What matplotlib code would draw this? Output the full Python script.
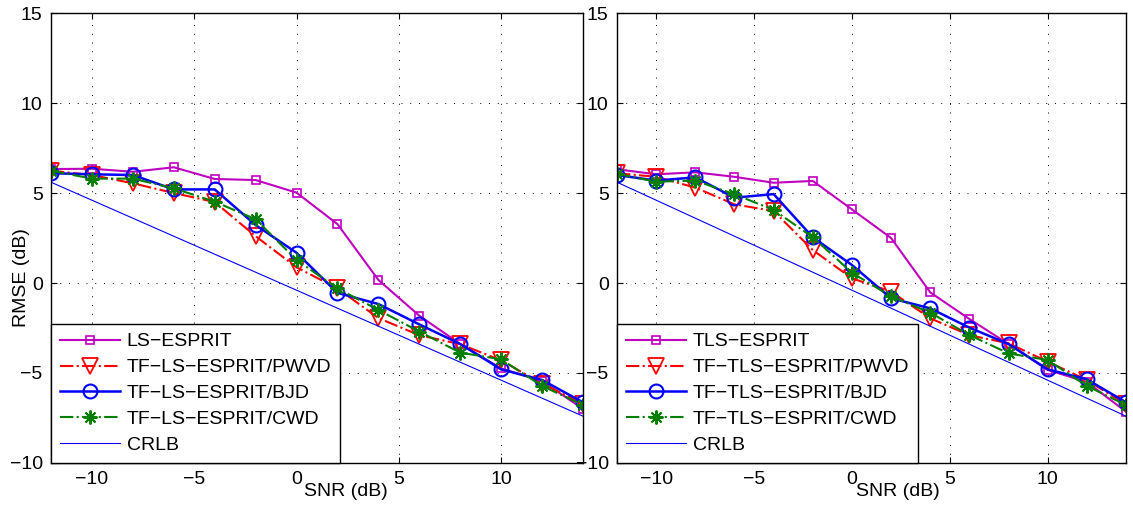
import matplotlib
matplotlib.use("Agg")
import matplotlib.pyplot as plt

# ----------------------
# 数据
# ----------------------
snr = [-12, -10, -8, -6, -4, -2, 0, 2, 4, 6, 8, 10, 12, 14]

# 左图: LS-ESPRIT
ls_esprit = [6.33, 6.35, 6.18, 6.43, 5.78, 5.72, 5.02, 3.27, 0.17, -1.82, -3.39, -4.75, -5.45, -7.0]
tf_ls_pwvd = [6.24, 6.0, 5.54, 5.0, 4.5, 2.6, 0.87, -0.3, -1.95, -2.9, -3.4, -4.3, -5.6, -6.7]
tf_ls_bjd = [6.1, 6.04, 6.0, 5.2, 5.2, 3.22, 1.68, -0.55, -1.17, -2.3, -3.39, -4.8, -5.39, -6.63]
tf_ls_cwd = [6.24, 5.8, 5.8, 5.26, 4.52, 3.54, 1.28, -0.3, -1.5, -2.7, -3.87, -4.24, -5.72, -6.78]

# 右图: TLS-ESPRIT
tls_esprit = [6.32, 6.04, 6.15, 5.9, 5.57, 5.67, 4.09, 2.5, -0.52, -2.0, -3.39, -4.83, -5.5, -7.15]
tf_tls_pwvd = [6.1, 5.9, 5.3, 4.37, 4.0, 1.83, 0.26, -0.48, -1.96, -2.9, -3.35, -4.37, -5.39, -6.75]
tf_tls_bjd = [6.0, 5.69, 5.87, 4.74, 4.94, 2.54, 1.0, -0.85, -1.41, -2.48, -3.39, -4.8, -5.35, -6.63]
tf_tls_cwd = [6.06, 5.63, 5.69, 4.93, 4.06, 2.54, 0.57, -0.74, -1.65, -2.89, -3.91, -4.28, -5.72, -6.78]

crlb = [5.6, 4.6, 3.6, 2.6, 1.6, 0.6, -0.4, -1.4, -2.4, -3.4, -4.4, -5.4, -6.4, -7.4]

left_labels = ["LS\u2212ESPRIT", "TF\u2212LS\u2212ESPRIT/PWVD", "TF\u2212LS\u2212ESPRIT/BJD",
               "TF\u2212LS\u2212ESPRIT/CWD", "CRLB"]
right_labels = ["TLS\u2212ESPRIT", "TF\u2212TLS\u2212ESPRIT/PWVD", "TF\u2212TLS\u2212ESPRIT/BJD",
                "TF\u2212TLS\u2212ESPRIT/CWD", "CRLB"]

plt.rcParams["font.family"] = ["Liberation Sans", "DejaVu Sans"]
plt.rcParams["font.size"] = 14

MAGENTA = "#bf00bf"
GREEN = "#007f00"
ASTERISK = (8, 2, 0)


def draw_panel(ax, series, labels, xlabel_x, ylabel=True):
    s1, s2, s3, s4 = series
    ax.plot(snr, s1, "-", color=MAGENTA, lw=1.5, marker="s", ms=5.5, mfc="none", mew=1.2, label=labels[0])
    ax.plot(snr, s2, "-.", color="red", lw=1.5, marker="v", ms=11, mfc="none", mew=1.3, label=labels[1])
    ax.plot(snr, s3, "-", color="blue", lw=1.8, marker="o", ms=10, mfc="none", mew=1.5, label=labels[2])
    ax.plot(snr, s4, "-.", color=GREEN, lw=1.5, marker=ASTERISK, ms=10, mew=1.4, label=labels[3])
    ax.plot(snr, crlb, "-", color="blue", lw=0.8, label=labels[4])

    ax.set_xlim(-12, 14)
    ax.set_ylim(-10, 15)
    ax.set_xticks([-10, -5, 0, 5, 10])
    ax.set_yticks([-10, -5, 0, 5, 10, 15])
    ax.tick_params(direction="in", length=4, top=True, right=True, pad=6, labelsize=14)
    ax.grid(True, color="black", linestyle=(0, (1, 8)), linewidth=0.7)
    for sp in ax.spines.values():
        sp.set_linewidth(1.0)

    ax.set_xlabel("SNR (dB)", fontsize=14)
    ax.xaxis.set_label_coords(xlabel_x, -0.045)
    if ylabel:
        ax.set_ylabel("RMSE (dB)", fontsize=14, va="center")
        ax.yaxis.set_label_coords(-0.055, 0.413)

    leg = ax.legend(loc="lower left", borderaxespad=0, fancybox=False, edgecolor="black",
                    framealpha=1, fontsize=14, handlelength=3.1, handletextpad=0.35,
                    labelspacing=0.43, borderpad=0.45)
    leg.get_frame().set_linewidth(1.0)


fig = plt.figure(figsize=(11.33, 5.09), dpi=100)
ax1 = fig.add_axes([0.045, 0.0904, 0.4696, 0.884])
ax2 = fig.add_axes([0.5446, 0.0904, 0.4492, 0.884])

draw_panel(ax1, [ls_esprit, tf_ls_pwvd, tf_ls_bjd, tf_ls_cwd], left_labels, 0.5545)
draw_panel(ax2, [tls_esprit, tf_tls_pwvd, tf_tls_bjd, tf_tls_cwd], right_labels, 0.552, ylabel=False)

fig.savefig("out.png", dpi=100)
